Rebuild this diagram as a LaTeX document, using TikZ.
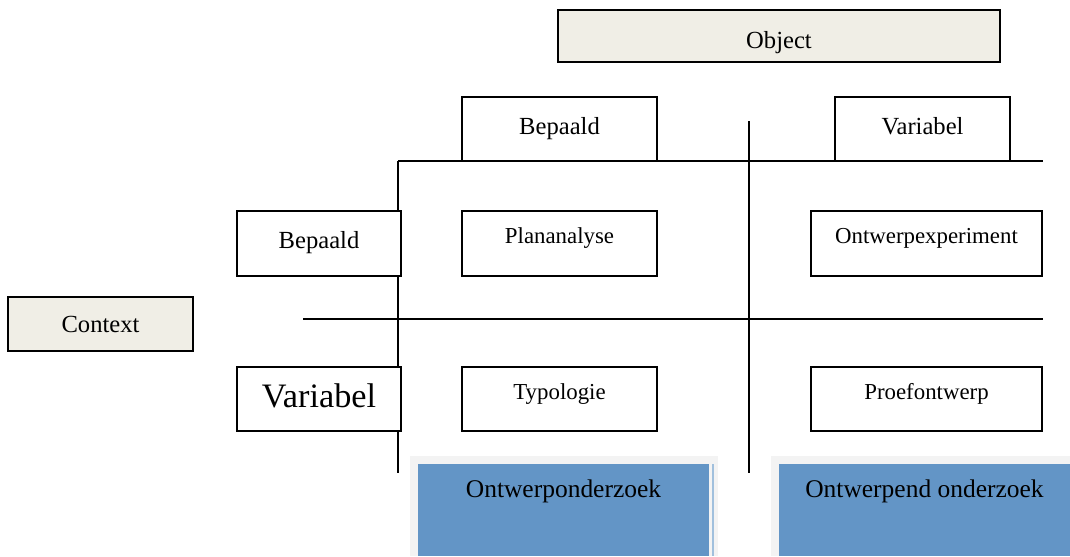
\documentclass[tikz,border=0pt]{standalone}
\usepackage{fontspec}
\setmainfont{Liberation Serif}
\usetikzlibrary{positioning}
\definecolor{beige}{HTML}{F0EEE6}
\definecolor{tileblue}{HTML}{6395C6}
\definecolor{halo}{HTML}{F3F3F3}
\begin{document}
\begin{tikzpicture}[x=0.02cm, y=-0.02cm, line width=1.1pt,
  axisbox/.style={rectangle, draw=black, fill=beige, line width=1.1pt,
                  inner sep=0pt, font=\fontsize{14}{16}\selectfont},
  headbox/.style={rectangle, draw=black, fill=white, line width=1.1pt,
                  inner sep=0pt, minimum width=3.9cm, minimum height=1.28cm,
                  text height=10pt, text depth=4pt,
                  font=\fontsize{14}{16}\selectfont},
  cell/.style={rectangle, draw=black, fill=white, line width=1.1pt,
               inner sep=0pt, minimum height=1.3cm, text height=8pt,
               text depth=8pt, font=\fontsize{13}{15}\selectfont},
  tile/.style={rectangle, fill=tileblue, inner sep=0pt, minimum width=5.82cm,
               minimum height=1.84cm, text height=9pt, text depth=23pt,
               font=\fontsize{14.5}{17}\selectfont},
  grid/.style={draw=black, line width=1.1pt}]
  \useasboundingbox (0,0) rectangle (1070,556);
  % axes of the matrix
  \draw[grid] (398,161) -- (1043,161);
  \draw[grid] (398,161) -- (398,473);
  \draw[grid] (749,121) -- (749,473);
  \draw[grid] (303,319) -- (1043,319);
  % dimensions
  \node[axisbox, minimum width=8.84cm, minimum height=1.04cm,
        text height=14pt, text depth=0pt] (obj) at (779,36) {Object};
  \node[axisbox, minimum width=3.7cm, minimum height=1.08cm] (ctx) at (100.5,324) {Context};
  \node[headbox] (oB) at (559.5,129) {Bepaald};
  \node[headbox, minimum width=3.5cm] (oV) at (922.5,129) {Variabel};
  \node[headbox, minimum width=3.28cm, minimum height=1.3cm] (cB) at (319,243.5) {Bepaald};
  \node[headbox, minimum width=3.28cm, minimum height=1.28cm, text height=14pt,
        text depth=4.6pt, font=\fontsize{19.5}{22}\selectfont] (cV) at (319,399) {Variabel};
  % cells
  \node[cell, minimum width=3.9cm] (plan) at (559.5,243.5) {Plananalyse};
  \node[cell, minimum width=4.62cm] (exp) at (926.5,243.5) {Ontwerpexperiment};
  \node[cell, minimum width=3.9cm, minimum height=1.28cm] (typ) at (559.5,399) {Typologie};
  \node[cell, minimum width=4.62cm, minimum height=1.28cm] (proef) at (926.5,399) {Proefontwerp};
  % research types
  \fill[halo] (410,456) rectangle (718,556);
  \fill[halo] (771,456) rectangle (1070,556);
  \draw[tileblue!60, line width=1pt] (713,464) -- (713,556);
  \node[tile] (oz) at (563.5,510) {Ontwerponderzoek};
  \node[tile, minimum width=5.82cm] (oo) at (924.5,510) {Ontwerpend onderzoek};
\end{tikzpicture}
\end{document}
